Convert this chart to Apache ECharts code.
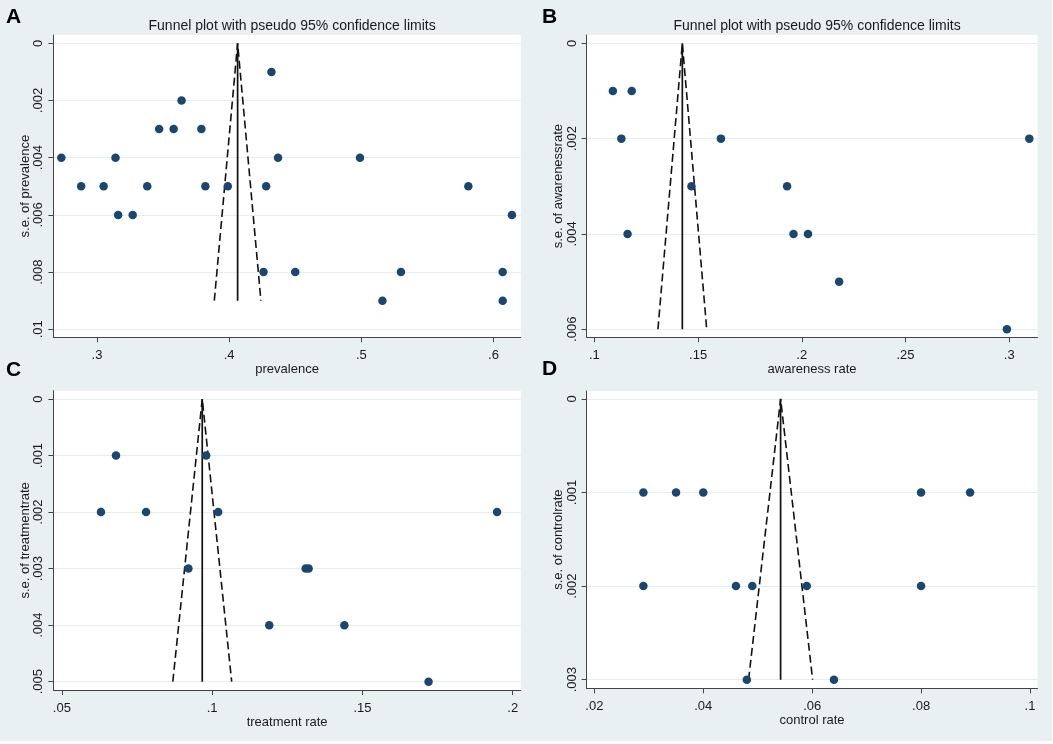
<!DOCTYPE html>
<html>
<head>
<meta charset="utf-8">
<script src="https://cdn.jsdelivr.net/npm/echarts@6/dist/echarts.min.js"></script>
<style>
  html, body { margin: 0; padding: 0; background: #ffffff; }
  #chart { width: 1052px; height: 741px; }
</style>
</head>
<body>
<div id="chart"></div>
<script>
// ---- Data ----
// Panel A: prevalence
const prevalence      = [0.273, 0.288, 0.305, 0.314, 0.316, 0.327, 0.338, 0.347, 0.358, 0.364, 0.379, 0.382, 0.399, 0.432, 0.437, 0.428, 0.426, 0.450, 0.499, 0.516, 0.530, 0.581, 0.607, 0.607, 0.614];
const sePrevalence    = [0.004, 0.005, 0.005, 0.004, 0.006, 0.006, 0.005, 0.003, 0.003, 0.002, 0.003, 0.005, 0.005, 0.001, 0.004, 0.005, 0.008, 0.008, 0.004, 0.009, 0.008, 0.005, 0.008, 0.009, 0.006];
// Panel B: awareness rate
const awarenessRate   = [0.1089, 0.118, 0.113, 0.161, 0.3097, 0.1468, 0.1929, 0.116, 0.196, 0.203, 0.218, 0.2989];
const seAwareness     = [0.001, 0.001, 0.002, 0.002, 0.002, 0.003, 0.003, 0.004, 0.004, 0.004, 0.005, 0.006];
// Panel C: treatment rate
const treatmentRate   = [0.068, 0.098, 0.063, 0.078, 0.102, 0.1948, 0.0921, 0.1311, 0.1321, 0.119, 0.144, 0.172];
const seTreatment     = [0.001, 0.001, 0.002, 0.002, 0.002, 0.002, 0.003, 0.003, 0.003, 0.004, 0.004, 0.005];
// Panel D: control rate
const controlRate     = [0.029, 0.035, 0.040, 0.080, 0.089, 0.029, 0.046, 0.049, 0.059, 0.080, 0.048, 0.064];
const seControl       = [0.001, 0.001, 0.001, 0.001, 0.001, 0.002, 0.002, 0.002, 0.002, 0.002, 0.003, 0.003];
// Pooled estimates (funnel centre)
const pooled          = [0.4064, 0.1424, 0.0967, 0.0542];
// Tick values
const xTicksA = [0.3, 0.4, 0.5, 0.6];
const yTicksA = [0, 0.002, 0.004, 0.006, 0.008, 0.01];
const xTicksB = [0.1, 0.15, 0.2, 0.25, 0.3];
const yTicksB = [0, 0.002, 0.004, 0.006];
const xTicksC = [0.05, 0.1, 0.15, 0.2];
const yTicksC = [0, 0.001, 0.002, 0.003, 0.004, 0.005];
const xTicksD = [0.02, 0.04, 0.06, 0.08, 0.1];
const yTicksD = [0, 0.001, 0.002, 0.003];
// Labels
const letters   = ['A', 'B', 'C', 'D'];
const xNames    = ['prevalence', 'awareness rate', 'treatment rate', 'control rate'];
const yNames    = ['s.e. of prevalence', 's.e. of awarenessrate', 's.e. of treatmentrate', 's.e. of controlrate'];
const titleText = 'Funnel plot with pseudo 95% confidence limits';

// ---- Layout ----
const panels = [
  { x: prevalence,    se: sePrevalence, xt: xTicksA, yt: yTicksA, xr: [0.267, 0.6207],   yr: [-0.00029, 0.01028],
    grid: { left: 53.4, top: 35, width: 467.4, height: 302.3 }, title: true, letterPos: [13.5, 17.5] },
  { x: awarenessRate, se: seAwareness,  xt: xTicksB, yt: yTicksB, xr: [0.09624, 0.31365], yr: [-0.000174, 0.006168],
    grid: { left: 586.6, top: 35, width: 450.9, height: 302.3 }, title: true, letterPos: [549.5, 17.5] },
  { x: treatmentRate, se: seTreatment,  xt: xTicksC, yt: yTicksC, xr: [0.04717, 0.2027],  yr: [-0.000147, 0.005147],
    grid: { left: 53.4, top: 390.7, width: 467.4, height: 299.3 }, title: false, letterPos: [13.5, 370] },
  { x: controlRate,   se: seControl,    xt: xTicksD, yt: yTicksD, xr: [0.01857, 0.10138], yr: [-0.000085, 0.003092],
    grid: { left: 586.6, top: 391, width: 450.9, height: 297.3 }, title: false, letterPos: [549.5, 369.5] }
];

const FONT = 'Liberation Sans, Arial, sans-serif';
const AXIS_COL = '#444444';
const TXT = '#1a1a1a';
const fmt = v => v === 0 ? '0' : String(parseFloat(v.toFixed(4))).replace(/^0\./, '.');

const grids = [], xAxes = [], yAxes = [], series = [], titles = [], graphics = [];

panels.forEach((p, i) => {
  grids.push(Object.assign({ show: true, backgroundColor: '#ffffff', borderWidth: 0 }, p.grid));
  xAxes.push({
    type: 'value', gridIndex: i, min: p.xr[0], max: p.xr[1],
    name: xNames[i], nameLocation: 'middle', nameGap: 24,
    nameTextStyle: { fontFamily: FONT, fontSize: 13, color: TXT },
    axisLine: { show: true, onZero: false, lineStyle: { color: AXIS_COL, width: 1 } },
    axisTick: { show: true, length: 5, inside: false, customValues: p.xt, lineStyle: { color: AXIS_COL } },
    axisLabel: { customValues: p.xt, formatter: fmt, margin: 12, fontFamily: FONT, fontSize: 13, color: TXT },
    splitLine: { show: false }
  });
  yAxes.push({
    type: 'value', gridIndex: i, min: p.yr[0], max: p.yr[1], inverse: true,
    name: yNames[i], nameLocation: 'middle', nameGap: 17, nameRotate: 90,
    nameTextStyle: { fontFamily: FONT, fontSize: 13, color: TXT },
    axisLine: { show: true, onZero: false, lineStyle: { color: AXIS_COL, width: 1 } },
    axisTick: { show: true, length: 5, inside: false, customValues: p.yt, lineStyle: { color: AXIS_COL } },
    axisLabel: { customValues: p.yt, formatter: fmt, rotate: 90, margin: 8, fontFamily: FONT, fontSize: 13, color: TXT },
    splitLine: { show: true, lineStyle: { color: '#e6eef0', width: 1.2 } }
  });
  const maxSE = Math.max.apply(null, p.se);
  const theta = pooled[i];
  series.push({
    type: 'line', xAxisIndex: i, yAxisIndex: i, symbol: 'none', silent: true, z: 3,
    lineStyle: { color: '#111111', width: 1.7 },
    data: [[theta, 0], [theta, maxSE]]
  });
  series.push({
    type: 'line', xAxisIndex: i, yAxisIndex: i, symbol: 'none', silent: true, z: 3,
    lineStyle: { color: '#111111', width: 1.6, type: [8, 4] },
    data: [[theta - 1.96 * maxSE, maxSE], [theta, 0], [theta + 1.96 * maxSE, maxSE]]
  });
  series.push({
    type: 'scatter', xAxisIndex: i, yAxisIndex: i, symbol: 'circle', symbolSize: 8.5, z: 4,
    itemStyle: { color: '#1a476f', opacity: 1 },
    data: p.x.map((v, k) => [v, p.se[k]])
  });
  if (p.title) {
    titles.push({
      text: titleText, left: p.grid.left + p.grid.width / 2, top: 14, textAlign: 'center',
      textStyle: { fontFamily: FONT, fontSize: 14, fontWeight: 'normal', color: TXT }
    });
  }
  graphics.push({
    type: 'text', x: p.letterPos[0], y: p.letterPos[1],
    style: { text: letters[i], fontFamily: FONT, fontSize: 21, fontWeight: 'bold', fill: '#000',
             textAlign: 'center', textVerticalAlign: 'middle' }
  });
});

const chart = echarts.init(document.getElementById('chart'), null, { renderer: 'canvas' });
chart.setOption({
  backgroundColor: '#e8f0f2',
  animation: false,
  title: titles,
  grid: grids,
  xAxis: xAxes,
  yAxis: yAxes,
  series: series,
  graphic: graphics
});
</script>
</body>
</html>
